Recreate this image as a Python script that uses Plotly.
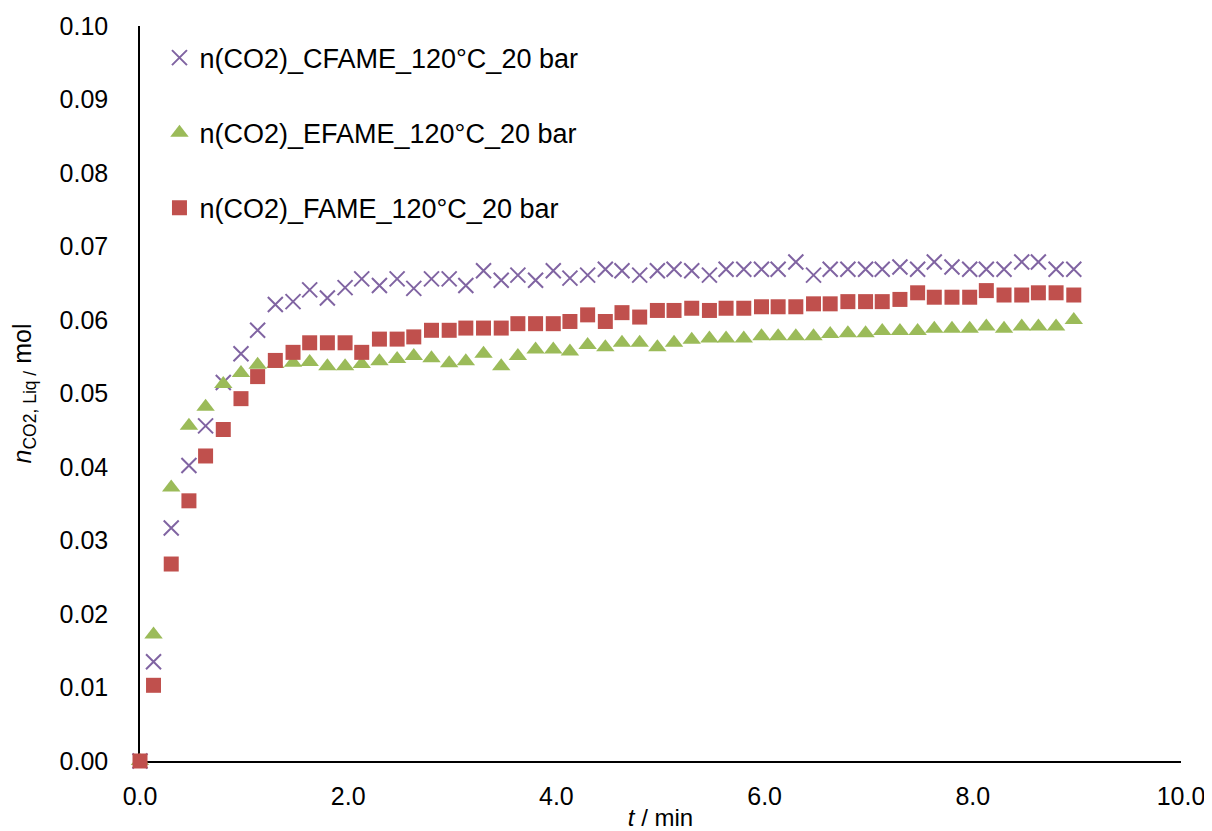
import plotly.graph_objects as go

# Time (min)
t = [0.0, 0.13, 0.30, 0.47, 0.63, 0.80, 0.97, 1.13, 1.30, 1.47, 1.63, 1.80, 1.97,
     2.13, 2.30, 2.47, 2.63, 2.80, 2.97, 3.13, 3.30, 3.47, 3.63, 3.80, 3.97,
     4.13, 4.30, 4.47, 4.63, 4.80, 4.97, 5.13, 5.30, 5.47, 5.63, 5.80, 5.97,
     6.13, 6.30, 6.47, 6.63, 6.80, 6.97, 7.13, 7.30, 7.47, 7.63, 7.80, 7.97,
     8.13, 8.30, 8.47, 8.63, 8.80, 8.97]

cfame = [0.0, 0.0135, 0.0317, 0.0402, 0.0456, 0.0515, 0.0554, 0.0586, 0.0621, 0.0625,
         0.0641, 0.0630, 0.0644, 0.0656, 0.0647, 0.0656, 0.0643, 0.0656, 0.0656, 0.0647,
         0.0667, 0.0654, 0.0661, 0.0654, 0.0667, 0.0657, 0.0661, 0.0669, 0.0667, 0.0661,
         0.0667, 0.0669, 0.0667, 0.0661, 0.0669, 0.0669, 0.0669, 0.0669, 0.0679, 0.0661,
         0.0669, 0.0669, 0.0669, 0.0669, 0.0672, 0.0669, 0.0679, 0.0672, 0.0669, 0.0669,
         0.0669, 0.0679, 0.0679, 0.0669, 0.0669]

efame = [0.0, 0.0172, 0.0372, 0.0456, 0.0482, 0.0513, 0.0528, 0.0539, 0.0540, 0.0542,
         0.0543, 0.0537, 0.0537, 0.0540, 0.0544, 0.0547, 0.0551, 0.0548, 0.0541, 0.0544,
         0.0554, 0.0537, 0.0551, 0.0560, 0.0560, 0.0557, 0.0566, 0.0563, 0.0569, 0.0569,
         0.0563, 0.0569, 0.0573, 0.0575, 0.0575, 0.0575, 0.0578, 0.0578, 0.0578, 0.0578,
         0.0581, 0.0582, 0.0582, 0.0585, 0.0585, 0.0585, 0.0588, 0.0588, 0.0588, 0.0591,
         0.0588, 0.0591, 0.0591, 0.0591, 0.0600]

fame = [0.0, 0.0103, 0.0268, 0.0354, 0.0415, 0.0451, 0.0493, 0.0523, 0.0545, 0.0556,
        0.0569, 0.0569, 0.0569, 0.0556, 0.0574, 0.0574, 0.0577, 0.0586, 0.0586, 0.0589,
        0.0589, 0.0589, 0.0595, 0.0595, 0.0595, 0.0598, 0.0607, 0.0598, 0.0610, 0.0604,
        0.0613, 0.0613, 0.0616, 0.0613, 0.0616, 0.0616, 0.0618, 0.0618, 0.0618, 0.0622,
        0.0622, 0.0625, 0.0625, 0.0625, 0.0628, 0.0637, 0.0631, 0.0631, 0.0631, 0.0640,
        0.0634, 0.0634, 0.0637, 0.0637, 0.0634]

names = ["n(CO2)_CFAME_120°C_20 bar", "n(CO2)_EFAME_120°C_20 bar", "n(CO2)_FAME_120°C_20 bar"]
x_ticks = [0, 2, 4, 6, 8, 10]
x_ticklabels = ["0.0", "2.0", "4.0", "6.0", "8.0", "10.0"]
y_ticks = [0.00, 0.01, 0.02, 0.03, 0.04, 0.05, 0.06, 0.07, 0.08, 0.09, 0.10]
y_ticklabels = ["0.00", "0.01", "0.02", "0.03", "0.04", "0.05", "0.06", "0.07", "0.08", "0.09", "0.10"]

PURPLE = "#8064A2"
GREEN = "#9BBB59"
RED = "#C0504D"
FONT = "Liberation Sans, Arial, sans-serif"

fig = go.Figure()
fig.add_trace(go.Scatter(
    x=t, y=cfame, mode="markers", name=names[0], legendgroup="a",
    cliponaxis=False,
    marker=dict(symbol="x-thin", size=15, color=PURPLE, line=dict(color=PURPLE, width=2))))
fig.add_trace(go.Scatter(
    x=t, y=efame, mode="markers", name=names[1], legendgroup="b",
    cliponaxis=False,
    marker=dict(symbol="triangle-up", size=16, color=GREEN, line=dict(width=0))))
fig.add_trace(go.Scatter(
    x=t, y=fame, mode="markers", name=names[2], legendgroup="c",
    cliponaxis=False,
    marker=dict(symbol="square", size=15, color=RED, line=dict(width=0))))

# The page body adds an 8 px offset, so the figure is 8 px smaller and margins shifted.
fig.update_layout(
    width=1204, height=823,
    margin=dict(l=132, r=31, t=18, b=70, autoexpand=False),
    paper_bgcolor="white", plot_bgcolor="white",
    font=dict(family=FONT, size=25, color="#000000"),
    showlegend=True,
    legend=dict(x=0.0187, y=0.9897, xanchor="left", yanchor="top",
                bgcolor="rgba(0,0,0,0)", font=dict(size=27, family=FONT),
                tracegroupgap=37, itemwidth=30),
    xaxis=dict(range=[0, 10], tickvals=x_ticks, ticktext=x_ticklabels,
               showgrid=False, zeroline=False, showline=True, linecolor="#000000",
               linewidth=2, ticks="", ticklabelstandoff=12, layer="below traces",
               automargin=False, ticklabeloverflow="allow",
               title=dict(text="<i>t</i> / min", font=dict(size=24, family=FONT), standoff=2)),
    yaxis=dict(range=[0, 0.10], tickvals=y_ticks, ticktext=y_ticklabels,
               showgrid=False, zeroline=False, showline=True, linecolor="#000000",
               linewidth=1.5, ticks="", ticklabelstandoff=25, layer="below traces",
               automargin=False,
               title=dict(text="<i>n</i><sub>CO2, Liq /</sub> mol", font=dict(size=25, family=FONT),
                          standoff=27)),
)

fig.write_html("out.html")
